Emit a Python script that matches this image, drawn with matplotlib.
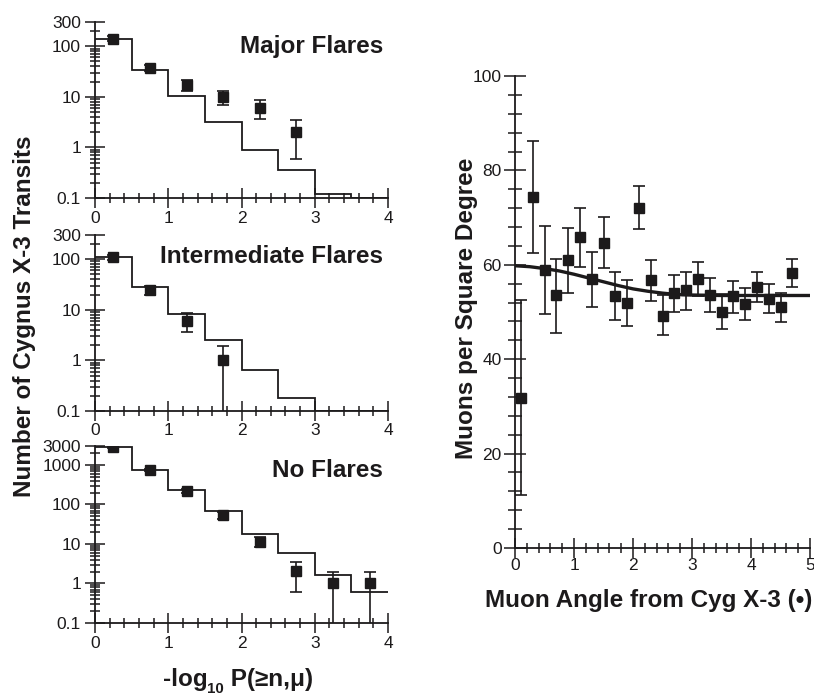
import numpy as np
import matplotlib
matplotlib.use("Agg")
import matplotlib.pyplot as plt
from matplotlib import font_manager as fm
from matplotlib.font_manager import FontProperties
from matplotlib.ticker import MultipleLocator, FixedLocator, FixedFormatter, LogLocator, NullFormatter

plt.rcParams['font.family'] = ['Liberation Sans', 'DejaVu Sans']

# a narrow bold face if there is one, else a smaller plain bold
names = {f.name for f in fm.fontManager.ttflist}
if 'Liberation Sans Narrow' in names:
    bfam, big = 'Liberation Sans Narrow', 21
else:
    bfam, big = 'Liberation Sans', 17.5

def bfont(size=None):
    return FontProperties(family=[bfam, 'DejaVu Sans'], weight='bold', size=size or big)

ink = '#1c1a1b'

# histogram bin edges, left panels
edges = [0, 0.5, 1.0, 1.5, 2.0, 2.5, 3.0, 3.5, 4.0]

# Major Flares
hist_major = [140, 34, 10.3, 3.2, 0.9, 0.35, 0.12, 0.1]
x_major = [0.25, 0.75, 1.25, 1.75, 2.25, 2.75]
y_major = [140, 37, 17, 10, 6.1, 2.0]
lo_major = [124, 32, 13.3, 6.9, 3.7, 0.6]
hi_major = [162, 43, 21.7, 13.3, 8.6, 3.5]

# Intermediate Flares
hist_inter = [108, 28, 8.2, 2.5, 0.64, 0.18, 0.1, 0.1]
x_inter = [0.25, 0.75, 1.25, 1.75]
y_inter = [108, 25, 6.1, 1.0]
lo_inter = [97, 20, 3.6, 0.05]
hi_inter = [119, 30, 8.6, 1.9]

# No Flares
hist_none = [2900, 750, 227, 68, 18.3, 5.8, 1.66, 0.61]
x_none = [0.25, 0.75, 1.25, 1.75, 2.25, 2.75, 3.25, 3.75]
y_none = [2870, 740, 218, 54, 11.5, 2.05, 1.0, 1.0]
lo_none = [2750, 700, 200, 44, 8.6, 0.6, 0.05, 0.05]
hi_none = [3000, 790, 240, 65, 14.8, 3.55, 1.94, 1.94]

# right panel
angle = [0.1, 0.3, 0.5, 0.7, 0.9, 1.1, 1.3, 1.5, 1.7, 1.9, 2.1, 2.3,
         2.5, 2.7, 2.9, 3.1, 3.3, 3.5, 3.7, 3.9, 4.1, 4.3, 4.5, 4.7]
muons = [31.7, 74.4, 58.9, 53.5, 61.1, 65.9, 57.0, 64.7, 53.4, 52.0, 72.1, 56.8,
         49.2, 54.0, 54.7, 57.0, 53.5, 49.9, 53.3, 51.6, 55.4, 52.8, 51.1, 58.2]
muons_lo = [11.2, 62.4, 49.5, 45.6, 54.1, 59.6, 51.1, 59.4, 48.4, 47.1, 67.6, 52.4,
            45.1, 49.9, 50.4, 53.3, 49.9, 46.3, 49.7, 48.4, 52.2, 49.7, 47.9, 55.3]
muons_hi = [52.6, 86.2, 68.3, 61.3, 67.9, 72.1, 62.7, 70.2, 58.4, 56.7, 76.7, 61.1,
            53.5, 57.9, 58.5, 60.7, 57.2, 53.8, 56.5, 55.0, 58.5, 55.9, 54.1, 61.3]
fit_x = [0, 0.25, 0.5, 0.75, 1.0, 1.25, 1.5, 1.75, 2.0, 2.25, 2.5, 2.75, 3.0, 3.5, 4.0, 4.5, 5.0]
fit_y = [59.8, 59.6, 59.2, 58.7, 58.0, 57.2, 56.4, 55.6, 54.9, 54.4, 54.0, 53.7, 53.6, 53.5, 53.5, 53.5, 53.5]

panels = [
    ("Major Flares", hist_major, x_major, y_major, lo_major, hi_major,
     [0.1, 1, 10, 100, 300], ["0.1", "1", "10", "100", "300"], 300, 0.86),
    ("Intermediate Flares", hist_inter, x_inter, y_inter, lo_inter, hi_inter,
     [0.1, 1, 10, 100, 300], ["0.1", "1", "10", "100", "300"], 300, 0.88),
    ("No Flares", hist_none, x_none, y_none, lo_none, hi_none,
     [0.1, 1, 10, 100, 1000, 3000], ["0.1", "1", "10", "100", "1000", "3000"], 3000, 0.864),
]
boxes = [[0.1167, 0.7163, 0.36, 0.2521],
         [0.1167, 0.4112, 0.36, 0.2521],
         [0.1167, 0.1074, 0.36, 0.2536]]

fig = plt.figure(figsize=(8.14, 6.98), dpi=100)

def style(ax):
    for s in ['top', 'right']:
        ax.spines[s].set_visible(False)
    for s in ['left', 'bottom']:
        ax.spines[s].set_linewidth(1.3)
        ax.spines[s].set_color(ink)
    ax.tick_params(which='both', direction='inout', colors=ink, width=1.1,
                   top=False, right=False, labelsize=12.5)

for (title, hist, px, py, plo, phi, yt, ytl, ytop, ty), box in zip(panels, boxes):
    ax = fig.add_axes(box)
    style(ax)
    ax.set_yscale('log')
    ax.set_xlim(0, 4)
    ax.set_ylim(0.1, ytop)
    ax.stairs(hist, edges, baseline=None, color=ink, lw=1.3)
    py = np.array(py)
    yerr = [py - np.array(plo), np.array(phi) - py]
    ax.errorbar(px, py, yerr=yerr, fmt='s', color=ink, ms=6.5, capsize=4,
                elinewidth=1.2, capthick=1.2)
    ax.yaxis.set_major_locator(FixedLocator(yt))
    ax.yaxis.set_major_formatter(FixedFormatter(ytl))
    ax.yaxis.set_minor_locator(LogLocator(base=10, subs=np.arange(2, 10), numticks=20))
    ax.yaxis.set_minor_formatter(NullFormatter())
    ax.xaxis.set_major_locator(MultipleLocator(1))
    ax.xaxis.set_minor_locator(MultipleLocator(0.2))
    ax.tick_params(which='major', length=14)
    ax.tick_params(which='minor', length=7)
    ax.tick_params(axis='y', pad=3)
    ax.tick_params(axis='x', pad=2)
    ax.text(0.983, ty, title, transform=ax.transAxes, ha='right', va='center',
            fontproperties=bfont(), color=ink)

fig.text(25 / 814, 0.547, "Number of Cygnus X-3 Transits", rotation=90,
         ha='center', va='center', fontproperties=bfont(), color=ink)

# right panel
ax = fig.add_axes([0.6327, 0.2149, 0.3624, 0.6762])
style(ax)
ax.set_xlim(0, 5)
ax.set_ylim(0, 100)
ax.plot(fit_x, fit_y, color=ink, lw=2.4)
m = np.array(muons)
yerr = [m - np.array(muons_lo), np.array(muons_hi) - m]
ax.errorbar(angle, m, yerr=yerr, fmt='s', color=ink, ms=7, capsize=4.5,
            elinewidth=1.2, capthick=1.2)
ax.xaxis.set_major_locator(MultipleLocator(1))
ax.xaxis.set_minor_locator(MultipleLocator(0.2))
ax.yaxis.set_major_locator(MultipleLocator(20))
ax.yaxis.set_minor_locator(MultipleLocator(4))
ax.tick_params(axis='y', which='major', length=16, pad=1.5)
ax.tick_params(axis='y', which='minor', length=10)
ax.tick_params(axis='x', which='major', length=14, pad=0.5)
ax.tick_params(axis='x', which='minor', length=7)
fig.text(466 / 814, 1 - 308.5 / 698, "Muons per Square Degree", rotation=90,
         ha='center', va='center', fontproperties=bfont(), color=ink)
xl = fig.text(650 / 814, 1 - 600 / 698, "Muon Angle from Cyg X-3 (\u2022)", ha='center', va='center',
              fontproperties=bfont(), color=ink)

# x label of the left column, with a lowered "10"
fig.canvas.draw()
r = fig.canvas.get_renderer()
parts = [("-log", bfont(), 0), ("10", bfont(big * 0.62), -7), (" P(\u2265n,\u03bc)", bfont(), 0)]
ybase = 698 - 686
xpos = 0
made = []
for s, fp, dy in parts:
    t = fig.text(xpos / 814, (ybase + dy) / 698, s, ha='left', va='baseline',
                 fontproperties=fp, color=ink)
    w = t.get_window_extent(r).width
    made.append((t, xpos))
    xpos += w
start = 238 - xpos / 2
for t, xp in made:
    t.set_x((start + xp) / 814)

# keep the right x label inside the figure
w = xl.get_window_extent(r).width
if 650 + w / 2 > 812:
    xl.set_x((812 - w / 2) / 814)

fig.savefig("out.png", dpi=100)
